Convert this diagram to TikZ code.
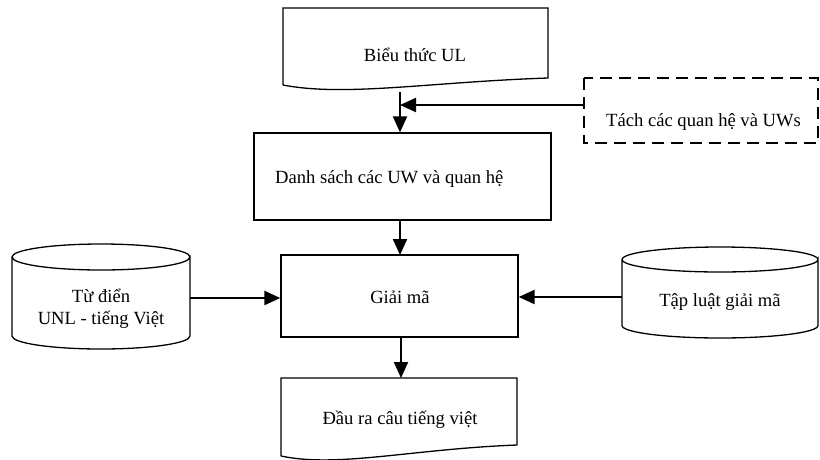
\documentclass[tikz,border=0pt]{standalone}
\usepackage{fontspec}
\setmainfont{Liberation Serif}
\usetikzlibrary{arrows.meta}
\begin{document}
\begin{tikzpicture}[x=1pt,y=-1pt,
  shapeline/.style={line width=1.3pt,line join=miter},
  flow/.style={line width=2.2pt,-{Triangle[length=16pt,width=14pt]}},
  lbl/.style={inner sep=0pt,font=\fontsize{18.6}{22}\selectfont},
]
\useasboundingbox (0,0) rectangle (820,459);

% input document with wavy bottom
\draw[shapeline] (283,85) -- (283,8) -- (548,8) -- (548,78)
  .. controls (430,82) and (345,97) .. (283,85);
\node[lbl] (bieu) at (415,55) {Biểu thức UL};
\coordinate (bieuOut) at (400,92);

% dashed process box
\draw[shapeline,dashed,dash pattern=on 12pt off 7pt] (584,78) rectangle (818,143);
\node[inner sep=0pt,minimum width=234pt,minimum height=65pt] (tachbox) at (701,110.5) {};
\node[lbl,anchor=west] (tach) at (606,122) {Tách các quan hệ và UWs};

% list of UWs and relations
\node[shapeline,draw,minimum width=297pt,minimum height=87pt,inner sep=0pt] (danhsach) at (402.5,176.5) {};
\node[lbl,anchor=west] (danhsachtxt) at (275,179) {Danh sách các UW và quan hệ};

% decoding step
\node[shapeline,draw,minimum width=237pt,minimum height=82pt,inner sep=0pt] (giaima) at (399.5,296) {};
\node[lbl] (giaimatxt) at (400,297) {Giải mã};

% dictionary cylinder
\draw[shapeline] (12,257) -- (12,336) arc[start angle=180,end angle=0,x radius=89,y radius=13]
  -- (190,257) arc[start angle=0,end angle=360,x radius=89,y radius=13];
\node[inner sep=0pt,minimum width=178pt,minimum height=105pt] (tudien) at (101,296) {};
\node[lbl,align=center] (tudientxt) at (101,309) {Từ điển\\UNL - tiếng Việt};

% rule set cylinder
\draw[shapeline] (622,259.5) -- (622,325.5) arc[start angle=180,end angle=0,x radius=98,y radius=12.5]
  -- (818,259.5) arc[start angle=0,end angle=360,x radius=98,y radius=12.5];
\node[inner sep=0pt,minimum width=196pt,minimum height=91pt] (tapluat) at (720,292.5) {};
\node[lbl] (tapluattxt) at (720,302) {Tập luật giải mã};

% output document with wavy bottom
\draw[shapeline] (281,456) -- (281,378) -- (517,378) -- (517,445)
  .. controls (412,449) and (337,468) .. (281,456);
\node[lbl] (dauratxt) at (400,420) {Đầu ra câu tiếng việt};
\node[inner sep=0pt,minimum width=236pt,minimum height=1pt,anchor=north] (daura) at (399,378) {};

% connectors
\coordinate (join) at (400,105);
\draw[line width=2.2pt] (bieuOut) -- (join);
\draw[flow] (join) -- (join |- danhsach.north);
\draw[flow] (tachbox.west |- join) -- (join);
\draw[flow] (400,220) -- (400,255);
\draw[flow] (giaima.south -| 401,0) -- (daura.north -| 401,0);
\draw[flow] (tudien.east |- 0,298) -- (giaima.west |- 0,298);
\draw[flow] (tapluat.west |- 0,297) -- (giaima.east |- 0,297);
\end{tikzpicture}
\end{document}
